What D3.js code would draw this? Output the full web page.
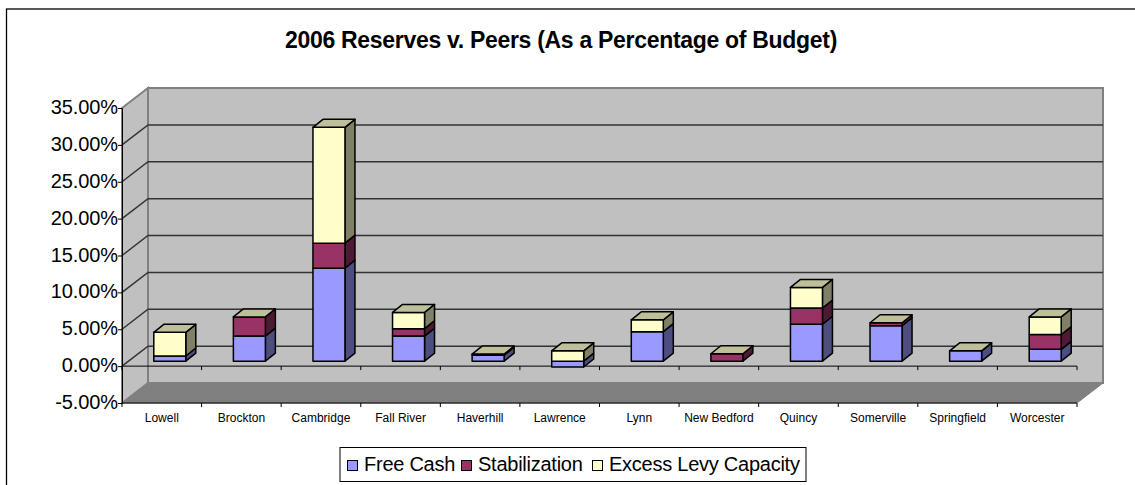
<!DOCTYPE html>
<html><head><meta charset="utf-8">
<script src="https://cdn.jsdelivr.net/npm/d3@7"></script>
<style>html,body{margin:0;background:#fff}svg{display:block}text{font-family:"Liberation Sans",Arial,sans-serif;fill:#000}</style>
</head><body><svg id="c" width="1135" height="485"></svg>
<script>
const categories=["Lowell","Brockton","Cambridge","Fall River","Haverhill","Lawrence","Lynn","New Bedford","Quincy","Somerville","Springfield","Worcester"];
const freeCash=[0.7,3.4,12.6,3.4,0.8,-0.8,4.0,0,5.0,4.8,1.4,1.6];
const stabilization=[0,2.6,3.4,1.0,0.15,0,0,1.0,2.2,0.4,0,2.0];
const excessLevy=[3.2,0,15.7,2.2,0,1.4,1.6,0,2.8,0,0,2.4];
const yTicks=[-5,0,5,10,15,20,25,30,35];
const seriesNames=["Free Cash","Stabilization","Excess Levy Capacity"];
const seriesColors=["#9999ff","#993366","#ffffcc"];
const sideColors=["#4d4d80","#4d1a33","#808066"];
const topColor="#bfbf99";

const svg=d3.select("#c");
const x=d3.scaleBand().domain(categories).range([122,1077]);
const y=d3.scaleLinear().domain([-5,35]).range([403,108]);
const depthX=26,depthY=-20,barDX=10,barDY=-8,barW=32;
const offX=8,offY=-5;

svg.append("rect").attr("x",6.5).attr("y",9).attr("width",1140).attr("height",490).attr("fill","#fff").attr("stroke","#000").attr("stroke-width",1.3);
svg.append("text").attr("x",561).attr("y",48).attr("text-anchor","middle").attr("font-weight","bold").attr("font-size",23).attr("letter-spacing",-0.3).text("2006 Reserves v. Peers (As a Percentage of Budget)");

const g=svg.append("g");
const [x0,x1]=x.range(), yb=y(-5), yt=y(35);
const poly=(pts,fill,stroke,sw)=>g.append("polygon").attr("points",pts.map(p=>p.join(",")).join(" ")).attr("fill",fill).attr("stroke",stroke||"none").attr("stroke-width",sw||0);
// walls
poly([[x0+depthX,yt+depthY],[x1+depthX,yt+depthY],[x1+depthX,yb+depthY],[x0+depthX,yb+depthY]],"#c0c0c0","#808080",2);
poly([[x0,yt],[x0+depthX,yt+depthY],[x0+depthX,yb+depthY],[x0,yb]],"#c0c0c0","#808080",2);
poly([[x0,yb],[x0+depthX,yb+depthY],[x1+depthX,yb+depthY],[x1,yb]],"#808080","#808080",1);
// gridlines
yTicks.filter(t=>t>-5&&t<35).forEach(t=>{
  g.append("path").attr("d",`M${x0},${y(t)}L${x0+depthX},${y(t)+depthY}L${x1+depthX},${y(t)+depthY}`).attr("fill","none").attr("stroke","#333").attr("stroke-width",1.5);
});
// axes
const yAxis=d3.axisLeft(y).tickValues(yTicks).tickSize(4).tickFormat(d=>d.toFixed(2)+"%");
const ya=svg.append("g").attr("transform",`translate(${x0},0)`).call(yAxis);
ya.selectAll("text").attr("font-size",20).attr("letter-spacing",-0.1).style("font-family","'Liberation Sans'").attr("x",-4).attr("dy","0.28em").attr("text-anchor","end");
ya.selectAll("line,path").attr("stroke","#000");
const xAxis=d3.axisBottom(x).tickSize(0).tickFormat(d=>d);
const xa=svg.append("g").attr("transform",`translate(0,${yb})`).call(xAxis);
xa.select("path").attr("stroke","#000").attr("d",`M${x0},0H${x1}`);
xa.selectAll("text").attr("font-size",12).attr("letter-spacing",0).attr("y",15).attr("dy","0.36em").attr("text-anchor","middle").style("font-family","'Liberation Sans'");
// tick marks on both category lines (front floor edge and zero line)
const edges=[x0,...categories.map(c=>x(c)+x.bandwidth())];
[[yb,yb+4],[y(0),y(0)+4]].forEach(([a,b])=>edges.forEach(e=>g.append("line").attr("x1",e).attr("x2",e).attr("y1",a).attr("y2",b).attr("stroke","#000")));
g.append("line").attr("x1",x0).attr("x2",x1).attr("y1",y(0)).attr("y2",y(0)).attr("stroke","#000");
// bars
const series=[freeCash,stabilization,excessLevy];
categories.forEach((c,i)=>{
  let pos=0,neg=0;
  const segs=[];
  series.forEach((s,k)=>{
    const v=s[i];
    if(v===0)return;
    if(v>0){segs.push({k,a:pos,b:pos+v});pos+=v;}
    else{segs.push({k,a:neg+v,b:neg});neg+=v;}
  });
  const bl=x(c)+x.bandwidth()/2-barW/2+offX, br=bl+barW;
  const Y=v=>y(v)+offY;
  const bar=g.append("g");
  segs.forEach(s=>{
    const st={fill:seriesColors[s.k],side:sideColors[s.k]};
    const P=(pts,f)=>bar.append("polygon").attr("points",pts.map(p=>p.join(",")).join(" ")).attr("fill",f).attr("stroke","#000").attr("stroke-width",1.5).attr("stroke-linejoin","round");
    P([[br,Y(s.b)],[br+barDX,Y(s.b)+barDY],[br+barDX,Y(s.a)+barDY],[br,Y(s.a)]],st.side);
    P([[bl,Y(s.b)],[br,Y(s.b)],[br,Y(s.a)],[bl,Y(s.a)]],st.fill);
  });
  const top=Y(pos);
  bar.append("polygon").attr("points",[[bl,top],[bl+barDX,top+barDY],[br+barDX,top+barDY],[br,top]].map(p=>p.join(",")).join(" ")).attr("fill",topColor).attr("stroke","#000").attr("stroke-width",1.5).attr("stroke-linejoin","round");
});
// legend
const lg=svg.append("g");
lg.append("rect").attr("x",340).attr("y",447.5).attr("width",466).attr("height",34).attr("fill","#fff").attr("stroke","#000");
const lx=[347,461,592];
seriesNames.forEach((n,k)=>{
  lg.append("rect").attr("x",lx[k]+0.5).attr("y",460.5).attr("width",10).attr("height",10).attr("fill",seriesColors[k]).attr("stroke","#000");
  lg.append("text").attr("x",lx[k]+17).attr("y",471).attr("font-size",20).attr("letter-spacing",-0.25).text(n);
});
</script></body></html>
